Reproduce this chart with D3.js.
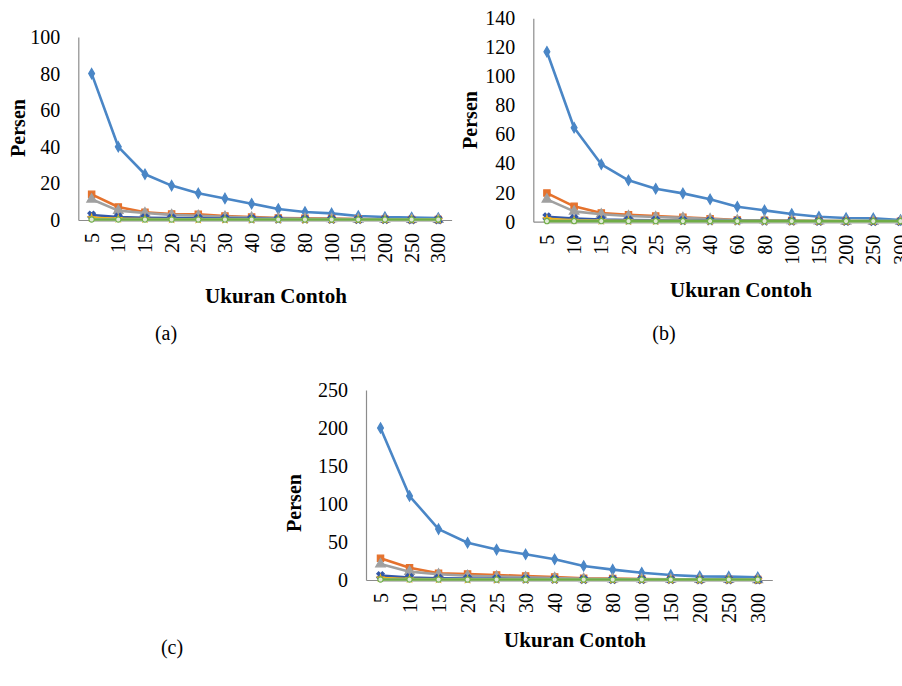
<!DOCTYPE html>
<html>
<head>
<meta charset="utf-8">
<script src="https://cdn.jsdelivr.net/npm/d3@7"></script>
<style>
  body { margin: 0; background: #fff; }
</style>
</head>
<body>
<svg id="chart" width="902" height="686"></svg>
<script>
var categories = ["5", "10", "15", "20", "25", "30", "40", "60", "80", "100", "150", "200", "250", "300"];

// panel (a)
var blueA   = [80, 40, 25, 18.8, 14.6, 11.8, 8.9, 6.0, 4.4, 3.6, 2.2, 1.6, 1.4, 1.1];
var orangeA = [14, 7.1, 4.2, 3.3, 3.1, 2.2, 1.6, 1.1, 0.9, 0.8, 0.5, 0.4, 0.3, 0.3];
var grayA   = [11.3, 5.1, 3.8, 2.8, 2.3, 1.8, 1.3, 0.9, 0.7, 0.6, 0.4, 0.3, 0.2, 0.2];
var navyA   = [2.7, 1.6, 1.2, 1.0, 0.9, 0.8, 0.6, 0.5, 0.4, 0.3, 0.2, 0.2, 0.1, 0.1];
var goldA   = [1.2, 0.7, 0.5, 0.4, 0.3, 0.3, 0.2, 0.2, 0.1, 0.1, 0.1, 0.1, 0.1, 0.1];
var greenA  = [0.3, 0.3, 0.3, 0.3, 0.3, 0.3, 0.3, 0.3, 0.3, 0.3, 0.3, 0.3, 0.3, 0.3];
var silverA = [0, 0, 0, 0, 0, 0, 0, 0, 0, 0, 0, 0, 0, 0];

// panel (b)
var blueB   = [117, 64.7, 39.5, 28.5, 22.7, 19.5, 15.4, 10.3, 7.8, 5.3, 3.4, 2.5, 2.3, 1.2];
var orangeB = [19.7, 10.6, 6.0, 4.8, 3.9, 3.0, 2.1, 1.2, 1.0, 0.8, 0.5, 0.4, 0.3, 0.3];
var grayB   = [15.4, 7.1, 5.1, 3.9, 3.2, 2.6, 1.8, 1.0, 0.8, 0.6, 0.4, 0.3, 0.3, 0.2];
var navyB   = [3.4, 2.2, 1.4, 1.1, 1.0, 0.8, 0.6, 0.5, 0.4, 0.3, 0.2, 0.2, 0.1, 0.1];
var goldB   = [2.0, 1.0, 0.7, 0.5, 0.4, 0.4, 0.3, 0.2, 0.2, 0.1, 0.1, 0.1, 0.1, 0.1];
var greenB  = [0.4, 0.4, 0.4, 0.4, 0.4, 0.4, 0.4, 0.4, 0.4, 0.4, 0.4, 0.4, 0.4, 0.4];
var silverB = [0, 0, 0, 0, 0, 0, 0, 0, 0, 0, 0, 0, 0, 0];

// panel (c)
var blueC   = [200, 110.5, 67, 49, 40, 33.8, 27.2, 18.4, 13.6, 9.6, 6.6, 4.8, 4.4, 3.5];
var orangeC = [28.5, 16.2, 8.8, 7.9, 6.6, 5.3, 4.0, 2.2, 1.8, 1.4, 0.9, 0.7, 0.6, 0.5];
var grayC   = [21, 11, 7.5, 5.6, 4.5, 3.6, 2.7, 1.6, 1.2, 1.0, 0.7, 0.5, 0.4, 0.3];
var navyC   = [5.7, 3.3, 2.3, 1.8, 1.5, 1.2, 0.9, 0.6, 0.5, 0.4, 0.3, 0.2, 0.2, 0.1];
var goldC   = [2.5, 1.3, 0.9, 0.7, 0.6, 0.5, 0.4, 0.3, 0.2, 0.2, 0.1, 0.1, 0.1, 0.1];
var greenC  = [0.6, 0.6, 0.6, 0.6, 0.6, 0.6, 0.6, 0.6, 0.6, 0.6, 0.6, 0.6, 0.6, 0.6];
var silverC = [0, 0, 0, 0, 0, 0, 0, 0, 0, 0, 0, 0, 0, 0];

var svg = d3.select("#chart");
var serif = "'Liberation Serif', Tinos, 'Nimbus Roman', 'DejaVu Serif', serif";

var styles = [
    {color: "#4a86c6", shape: d3.symbolDiamond, size: 30, fill: true},
    {color: "#e5722d", shape: d3.symbolSquare, size: 40, fill: true},
    {color: "#a0a0a0", shape: d3.symbolTriangle, size: 40, fill: true},
    {color: "#3358a8", shape: d3.symbolCross, size: 35, fill: true, rot: 45},
    {color: "#f2b21b", shape: d3.symbolStar, size: 12, fill: true},
    {color: "#c4c4c4", shape: null},
    {color: "#70ad47", shape: d3.symbolCircle, size: 22, fill: false}
];

function drawPanel(p){

    var x = d3.scalePoint()
        .domain(categories)
        .range([p.x0, p.x1])
        .padding(0.5);

    var y = d3.scaleLinear()
        .domain([0, p.max])
        .range([p.yBot, p.yTop]);

    var g = svg.append("g");

    // y axis
    var yAxis = g.append("g")
        .attr("transform", "translate(" + p.x0 + ",0)")
        .call(d3.axisLeft(y).tickValues(d3.range(0, p.max + 1, p.step)).tickSize(0).tickPadding(18));
    yAxis.select(".domain").attr("stroke", "#8c8c8c").attr("stroke-width", 1.2);
    yAxis.selectAll("text").style("font-size", "20px");

    // x axis
    var xAxis = g.append("g")
        .attr("transform", "translate(0," + p.yBot + ")")
        .call(d3.axisBottom(x).tickSize(0).tickPadding(0));
    xAxis.select(".domain").attr("stroke", "#8c8c8c").attr("stroke-width", 1.2);
    xAxis.selectAll("text")
        .style("font-size", "20px")
        .attr("text-anchor", "end")
        .attr("y", 0)
        .attr("dy", "0.33em")
        .attr("transform", "translate(0,13) rotate(-90)");

    var line = d3.line()
        .x((d, i) => x(categories[i]))
        .y(d => y(d));

    p.series.forEach(function(vals, k){
        var st = styles[k];
        g.append("path")
            .datum(vals)
            .attr("d", line)
            .attr("fill", "none")
            .attr("stroke", st.color)
            .attr("stroke-width", k == 5 ? 4 : 2.6)
            .attr("stroke-linejoin", "round");

        if (st.shape){
            g.selectAll(".m" + k)
                .data(vals)
                .enter()
                .append("path")
                .attr("d", d3.symbol().type(st.shape).size(st.size))
                .attr("transform", (d, i) => "translate(" + x(categories[i]) + "," + y(d) + ")" + (st.rot ? " rotate(" + st.rot + ")" : ""))
                .attr("fill", st.fill ? st.color : "#dfe9d6")
                .attr("stroke", st.color)
                .attr("stroke-width", 1.2);
        }
    });

    g.append("text")
        .attr("transform", "translate(" + p.persen[0] + "," + p.persen[1] + ") rotate(-90)")
        .attr("text-anchor", "middle")
        .attr("dy", "0.35em")
        .style("font-size", "20px")
        .style("font-weight", "bold")
        .text("Persen");

    g.append("text")
        .attr("x", p.ukuran[0])
        .attr("y", p.ukuran[1])
        .attr("text-anchor", "middle")
        .style("font-size", "21px")
        .style("font-weight", "bold")
        .text("Ukuran Contoh");

    g.append("text")
        .attr("x", p.tag[0])
        .attr("y", p.tag[1])
        .attr("text-anchor", "middle")
        .style("font-size", "20px")
        .text(p.label);

    g.selectAll("g").attr("font-family", null);
    g.selectAll("text")
        .attr("font-family", serif)
        .style("font-family", serif)
        .style("fill", "#000");
}

drawPanel({
    x0: 78.3, x1: 451.6, yTop: 37, yBot: 220, max: 100, step: 20,
    persen: [18, 128], ukuran: [276, 303], tag: [166, 340], label: "(a)",
    series: [blueA, orangeA, grayA, navyA, goldA, silverA, greenA]
});

drawPanel({
    x0: 533.3, x1: 914.1, yTop: 18.3, yBot: 221.7, max: 140, step: 20,
    persen: [470, 120], ukuran: [741, 297], tag: [664, 340], label: "(b)",
    series: [blueB, orangeB, grayB, navyB, goldB, silverB, greenB]
});

drawPanel({
    x0: 366, x1: 772.3, yTop: 390, yBot: 580, max: 250, step: 50,
    persen: [294, 503], ukuran: [575, 647], tag: [172, 654], label: "(c)",
    series: [blueC, orangeC, grayC, navyC, goldC, silverC, greenC]
});
</script>
</body>
</html>
